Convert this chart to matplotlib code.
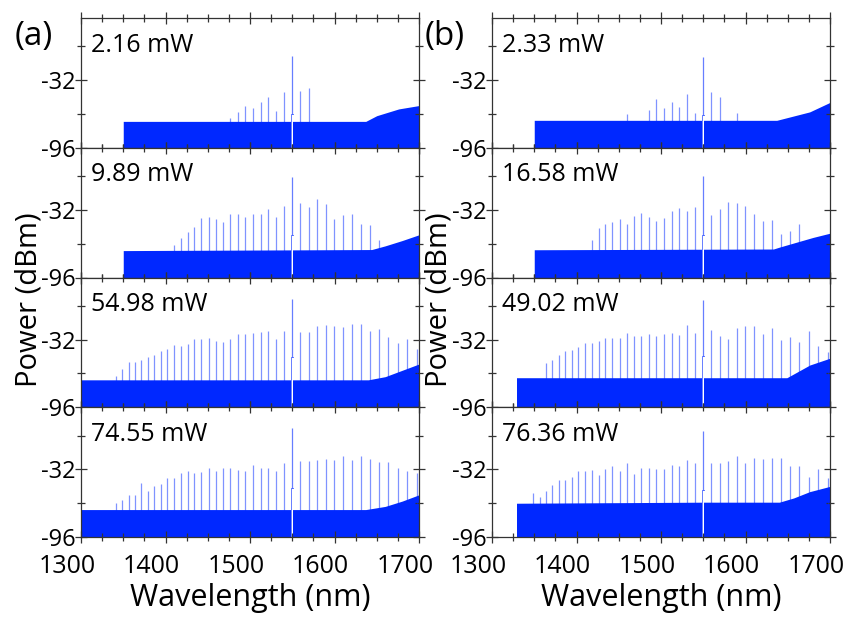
import matplotlib
matplotlib.use("Agg")
import matplotlib.pyplot as plt
from matplotlib.ticker import MultipleLocator
from matplotlib.transforms import ScaledTranslation

plt.rcParams['font.family'] = ['Open Sans', 'DejaVu Sans']
plt.rcParams['axes.unicode_minus'] = False

BLUE = '#0028ff'

# comb line wavelengths (nm), ascending, pump at 1550 left out
comb_nm = [1341.9, 1349.1, 1356.4, 1363.9, 1371.3, 1378.9, 1386.6, 1394.3, 1402.1,
           1410.0, 1418.0, 1426.1, 1434.3, 1442.6, 1451.0, 1459.5, 1468.0, 1476.7,
           1485.5, 1494.4, 1503.4, 1512.5, 1521.7, 1531.0, 1540.4, 1559.7, 1569.5,
           1579.4, 1589.4, 1599.6, 1609.9, 1620.4, 1631.0, 1641.7, 1652.5, 1663.5,
           1674.7, 1686.0, 1697.4]
N = None

# comb line peak powers (dBm), one entry per comb_nm, None = no line
comb_a1 = [N] * 17 + [-68, -62, -56, -58, -53, -48, -61, -43.5, -42, -39] + [N] * 12
comb_a2 = [N] * 9 + [-65, -59, -52.7, -48, -40, -39, -41, -43, -35.5, -35.5, -39, -35.5,
                     -36, -31, -38.5, -28, -25, -29, -22, -26, -41, -37, -35.5, -45,
                     -46.5, -60.5] + [N] * 4
comb_a3 = [-66.7, -59.7, -53.4, -53.4, -50.9, -48.7, -46.2, -43, -40.8, -36.7, -38.3,
           -36.1, -31.3, -31.3, -30.4, -32.9, -34.5, -31.3, -26.6, -26.6, -26, -25,
           -24.1, -31.3, -24.1, -25, -25, -18.7, -18.1, -18.7, -20.3, -17.1, -17.1,
           -23.4, -21.9, -29.1, -35.1, -31.3, -40.8]
comb_a4 = [-63.5, -61, -56.4, -56.4, -45.2, -52, -47.4, -45.8, -39.7, -40.3, -35.6,
           -33.2, -35, -34.1, -30.4, -33.5, -31, -31, -32.5, -33.2, -27.9, -30.4,
           -30.4, -33.5, -25.7, -23.9, -23.9, -22.6, -21.7, -22.6, -19.2, -22.6,
           -19.5, -21.7, -24.8, -24.8, -30.4, -33.5, -35]
comb_b1 = [N] * 15 + [-64, N, N, -60, -50, -58.6, -52.8, -57.6, -44.8, -63, -43.5, -48,
                      N, -63.4] + [N] * 10
comb_b2 = [N] * 10 + [-60.6, -49.3, -44.9, -43.3, -40.8, -44.9, -37.7, -34.6, -38.3,
                      -42.4, -39.9, -33, -29.9, -33, -29.2, -36.8, -31.4, -24.5, -25.8,
                      -28.3, -35.5, -42.4, -41.8, -54.3, -51.8, -45.5] + [N] * 3
comb_b3 = [N] * 3 + [-54, -51.2, -46.5, -42.4, -41.5, -38.6, -34.9, -34.9, -33, -30.5,
                     -30.8, -30.5, -25.8, -28.3, -28.3, -26.7, -28.9, -26.7, -25.2,
                     -27.3, -17.9, -25.2, -22.6, -28.9, -31.4, -21.1, -18.9, -18.9,
                     -26.7, -21.1, -32.4, -29.2, -34.6, -23.6, -37.7, -44]
comb_b4 = [N] + [-54.1, -58.2, -52, -46.3, -41.6, -41.6, -39.4, -33.8, -33.8, -32.9,
                 -37.6, -31.3, -29.1, -33.4, -26, -36.3, -30.7, -30.7, -31.3, -31.3,
                 -28.2, -29.1, -22.9, -25.4, -25.4, -26, -23.5, -19.1, -25.4, -20.7,
                 -22, -21.3, -20.7, -29.1, -29.1, -39.4, -31.3, -40]

# noise floor breakpoints
floor_x_a1 = [1350, 1600, 1637, 1650, 1676, 1700]
floor_y_a1 = [-71, -71, -71, -65.6, -59.2, -56]
floor_x_a2 = [1350, 1644, 1660, 1680, 1700]
floor_y_a2 = [-70.5, -69.5, -66, -61, -55.5]
floor_x_a3 = [1300, 1640, 1660, 1680, 1700]
floor_y_a3 = [-70, -70, -67, -61, -55]
floor_x_a4 = [1300, 1637, 1660, 1680, 1700]
floor_y_a4 = [-70, -70, -67, -62, -56]
floor_x_b1 = [1350, 1637, 1676, 1700]
floor_y_b1 = [-70, -70, -62, -53]
floor_x_b2 = [1350, 1633, 1641, 1680, 1700]
floor_y_b2 = [-69.7, -69, -67, -58, -54]
floor_x_b3 = [1329, 1649, 1676, 1700]
floor_y_b3 = [-68, -68, -56, -49.5]
floor_x_b4 = [1329, 1550, 1640, 1657, 1676, 1700]
floor_y_b4 = [-64, -63, -63, -59, -53, -48]

pump_nm = 1550
pump_peak = {'a': [-9, -1, 6.5, 7.7], 'b': [-9.6, 0, 5.3, 4.3]}
notch_top = {'a': [-64, -56, -48, -50], 'b': [-65, -56, -47, -51]}
powers = {'a': ['2.16 mW', '9.89 mW', '54.98 mW', '74.55 mW'],
          'b': ['2.33 mW', '16.58 mW', '49.02 mW', '76.36 mW']}
combs = {'a': [comb_a1, comb_a2, comb_a3, comb_a4], 'b': [comb_b1, comb_b2, comb_b3, comb_b4]}
floors = {'a': [(floor_x_a1, floor_y_a1), (floor_x_a2, floor_y_a2),
                (floor_x_a3, floor_y_a3), (floor_x_a4, floor_y_a4)],
          'b': [(floor_x_b1, floor_y_b1), (floor_x_b2, floor_y_b2),
                (floor_x_b3, floor_y_b3), (floor_x_b4, floor_y_b4)]}

fig = plt.figure(figsize=(8.48, 6.21), dpi=100)

W, H = 848, 621
col_left = {'a': 81, 'b': 492}
ax_w = 338
top, bottom = 18, 537
ph = (bottom - top) / 4
shift = ScaledTranslation(-14 / 100, 0, fig.dpi_scale_trans)

for col in ['a', 'b']:
    for i in range(4):
        ax = fig.add_axes([col_left[col] / W, 1 - (top + (i + 1) * ph) / H, ax_w / W, ph / H])
        fx, fy = floors[col][i]
        ax.fill_between(fx, fy, -96, color=BLUE, lw=0)
        xs = [x for x, p in zip(comb_nm, combs[col][i]) if p is not None]
        ps = [p for p in combs[col][i] if p is not None]
        ax.vlines(xs, -90, ps, color=BLUE, lw=0.9, alpha=0.5)
        nt = notch_top[col][i]
        ax.fill_between([pump_nm - 1.3, pump_nm + 1.3], -96, nt, color='white', lw=0)
        ax.plot([pump_nm - 1.3, pump_nm - 1.3, pump_nm + 1.3],
                [-96, nt, nt], color=BLUE, lw=0.7, alpha=0.6)
        ax.vlines([pump_nm], nt, pump_peak[col][i], color=BLUE, lw=0.9, alpha=0.6)

        ax.set_xlim(1300, 1700)
        ax.set_ylim(-96, 27)
        ax.xaxis.set_major_locator(MultipleLocator(100))
        ax.xaxis.set_minor_locator(MultipleLocator(25))
        ax.set_yticks([-96, -32])
        ax.yaxis.set_minor_locator(MultipleLocator(32))
        ax.tick_params(which='both', direction='inout', top=True, right=True,
                       width=0.9, color='#333333')
        ax.tick_params(which='major', length=8)
        ax.tick_params(which='minor', length=6)
        ax.tick_params(axis='y', labelsize=17, pad=0)
        ax.tick_params(axis='x', labelsize=18, pad=8)
        for s in ax.spines.values():
            s.set_linewidth(0.9)
            s.set_color('#333333')
        if i < 3:
            ax.set_xticklabels([])
        else:
            ax.set_xlabel('Wavelength (nm)', fontsize=22, labelpad=3)
            for lab in ax.get_xticklabels():
                lab.set_transform(lab.get_transform() + shift)
        ax.text(0.03, 0.79, powers[col][i], transform=ax.transAxes,
                fontsize=18, va='center', ha='left')

fig.text(34 / W, 1 - 36 / H, '(a)', fontsize=24, ha='center', va='center')
fig.text(445 / W, 1 - 36 / H, '(b)', fontsize=24, ha='center', va='center')
fig.text(29 / W, 1 - 300 / H, 'Power (dBm)', fontsize=21, rotation=90,
         ha='center', va='center')
fig.text(439 / W, 1 - 300 / H, 'Power (dBm)', fontsize=21, rotation=90,
         ha='center', va='center')

fig.savefig('out.png', dpi=100)
